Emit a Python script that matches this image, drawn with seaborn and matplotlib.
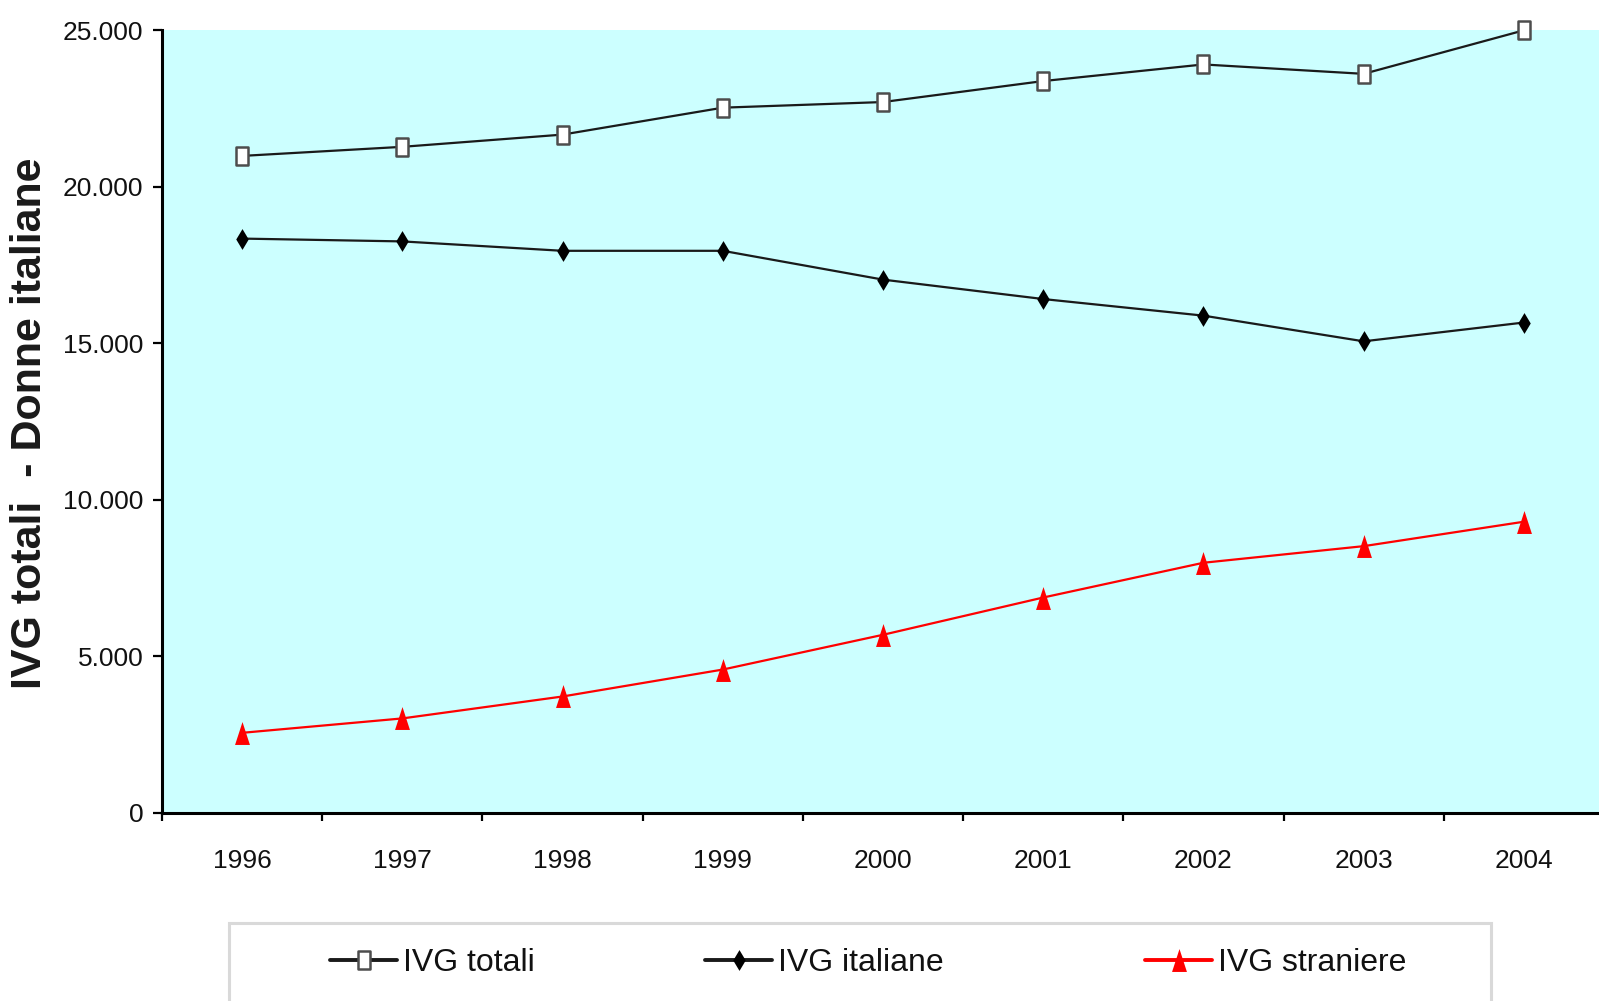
import matplotlib
matplotlib.use("Agg")
import matplotlib.pyplot as plt
import seaborn as sns
import pandas as pd
from matplotlib import font_manager
from matplotlib.lines import Line2D
from matplotlib.patches import Rectangle
from matplotlib.path import Path
from matplotlib.ticker import FuncFormatter, FixedLocator, NullFormatter

# ---- data -------------------------------------------------------------
years = [1996, 1997, 1998, 1999, 2000, 2001, 2002, 2003, 2004]
ivg_totali = [20980, 21270, 21660, 22520, 22700, 23370, 23900, 23600, 24990]
ivg_italiane = [18340, 18250, 17950, 17950, 17030, 16410, 15880, 15060, 15660]
ivg_straniere = [2560, 3020, 3720, 4580, 5690, 6880, 7990, 8520, 9300]
series_names = ["IVG totali", "IVG italiane", "IVG straniere"]
y_ticks = [0, 5000, 10000, 15000, 20000, 25000]
y_label = "IVG totali  - Donne italiane"

# ---- fonts ------------------------------------------------------------
sns.set_style("white")
available = {f.name for f in font_manager.fontManager.ttflist}
if "Liberation Sans Narrow" in available:
    text_family = ["Liberation Sans Narrow", "DejaVu Sans"]
    tick_size, legend_size = 22, 27
else:
    text_family = ["Liberation Sans", "DejaVu Sans"]
    tick_size, legend_size = 19, 23
plt.rcParams["font.family"] = text_family

# ---- marker shapes (tall square, diamond, triangle) -------------------
tall_square = Path([(-0.6, -1), (0.6, -1), (0.6, 1), (-0.6, 1), (-0.6, -1)], closed=True)
tall_diamond = Path([(0, -1), (0.6, 0), (0, 1), (-0.6, 0), (0, -1)], closed=True)
tall_triangle = Path([(-0.65, -1), (0.65, -1), (0, 1), (-0.65, -1)], closed=True)

styles = {
    "IVG totali": dict(color="#1a1a1a", marker=tall_square, markersize=13.5,
                       markerfacecolor="white", markeredgecolor="#4d4d4d", markeredgewidth=1.8),
    "IVG italiane": dict(color="#1a1a1a", marker=tall_diamond, markersize=15,
                         markerfacecolor="black", markeredgecolor="black", markeredgewidth=0),
    "IVG straniere": dict(color="#ff0000", marker=tall_triangle, markersize=16.5,
                          markerfacecolor="#ff0000", markeredgecolor="#ff0000", markeredgewidth=0),
}

df = pd.DataFrame({"anno": years, "IVG totali": ivg_totali,
                   "IVG italiane": ivg_italiane, "IVG straniere": ivg_straniere})

# ---- figure -----------------------------------------------------------
W, H = 1599, 1001
fig = plt.figure(figsize=(W / 100, H / 100), dpi=100)
fig.patch.set_facecolor("white")
ax = fig.add_axes([162 / W, 1 - 813 / H, (1604 - 162) / W, (813 - 30) / H])
ax.set_facecolor("#ccffff")

for name in series_names:
    sns.lineplot(data=df, x="anno", y=name, ax=ax, linewidth=1.6,
                 clip_on=False, zorder=3, legend=False, **styles[name])

ax.set_xlim(years[0] - 0.5, years[-1] + 0.5)
ax.set_ylim(y_ticks[0], y_ticks[-1])
ax.set_xlabel("")
ax.set_ylabel("")

# spines
for side in ["top", "right"]:
    ax.spines[side].set_visible(False)
for side in ["left", "bottom"]:
    ax.spines[side].set_color("black")
    ax.spines[side].set_linewidth(2.2)

# y axis
ax.yaxis.set_major_locator(FixedLocator(y_ticks))
ax.yaxis.set_major_formatter(FuncFormatter(lambda v, p: f"{int(v):,}".replace(",", ".")))
ax.tick_params(axis="y", which="major", direction="out", length=6.5, width=1.6,
               color="black", pad=7, labelsize=tick_size, left=True, labelcolor="#111111")

# x axis: ticks on category boundaries, labels at category centres
ax.xaxis.set_major_locator(FixedLocator([y - 0.5 for y in years] + [years[-1] + 0.5]))
ax.xaxis.set_major_formatter(NullFormatter())
ax.xaxis.set_minor_locator(FixedLocator(years))
ax.xaxis.set_minor_formatter(FuncFormatter(lambda v, p: f"{int(round(v))}"))
ax.tick_params(axis="x", which="major", direction="out", length=6, width=1.6,
               color="black", bottom=True)
ax.tick_params(axis="x", which="minor", length=0, pad=26, labelsize=tick_size,
               bottom=True, labelcolor="#111111")
ax.grid(False)

# y label
fig.text(30 / W, 1 - 423 / H, y_label, rotation=90, ha="center", va="center",
         fontsize=31, fontweight="bold", family=["Liberation Sans", "DejaVu Sans"],
         color="#1a1a1a")

# legend box
fig.add_artist(Rectangle((229 / W, -0.05), (1491 - 229) / W, (1 - 923 / H) + 0.05,
                         transform=fig.transFigure, facecolor="white",
                         edgecolor="#d9d9d9", linewidth=2.2, zorder=0))

# one legend entry per series, each anchored where its sample line begins
fs_px = legend_size * 100 / 72
entry_starts = [330, 705, 1145]
for name, x0 in zip(series_names, entry_starts):
    handle = Line2D([], [], linewidth=2.8, **styles[name])
    fig.legend([handle], [name], loc="center left",
               bbox_to_anchor=(x0 / W, 1 - 963 / H), frameon=False,
               borderpad=0, borderaxespad=0, fontsize=legend_size,
               handlelength=67 / fs_px, handletextpad=6 / fs_px,
               labelcolor="#111111")

fig.savefig("out.png", dpi=100)
